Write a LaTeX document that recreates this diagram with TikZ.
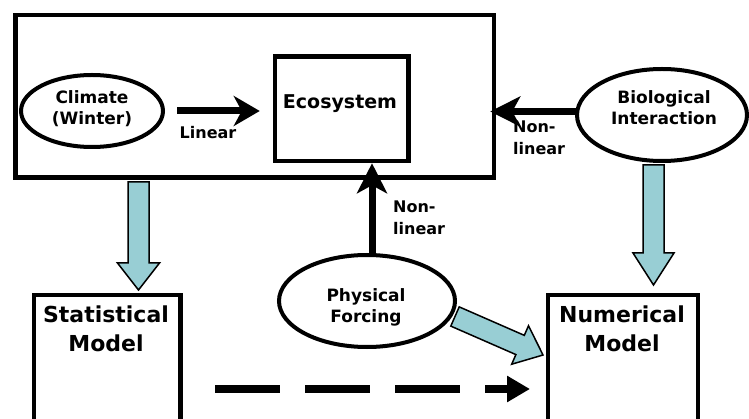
\documentclass[tikz,border=0pt]{standalone}
\usepackage{fontspec}
\setmainfont{DejaVu Sans}
\usetikzlibrary{arrows.meta,shapes.geometric,calc}
\definecolor{arrowblue}{RGB}{152,206,212}
\newcommand\fatarrow[4]{%
  \coordinate (fah) at ($(#2)!#3!(#1)$);
  \draw[bluearrow] ($(#1)!10.5pt!-90:(#2)$) -- ($(fah)!10.5pt!90:(#1)$)
    -- ($(fah)!#4!90:(#1)$) -- (#2) -- ($(fah)!#4!-90:(#1)$)
    -- ($(fah)!10.5pt!-90:(#1)$) -- ($(#1)!10.5pt!90:(#2)$) -- cycle;}
\tikzset{
  ell/.style={draw, ellipse, line width=4pt, inner sep=0pt},
  boxnode/.style={draw, rectangle, line width=4.5pt, inner sep=0pt},
  blackarrow/.style={line width=7pt, -{Stealth[length=#1, width=30pt, inset=8pt]}},
  blackarrow/.default=30pt,
  bluearrow/.style={fill=arrowblue, draw=black, line width=1.5pt, line join=miter},
  dasharrow/.style={line width=8pt, dash pattern=on 65pt off 25pt, -{Triangle[length=23pt,width=25pt]}},
  etext/.style={font=\bfseries\fontsize{17}{21}\selectfont, align=center, inner sep=0pt},
  lbl/.style={font=\bfseries\fontsize{16}{22}\selectfont, align=left, inner sep=0pt},
  bigtext/.style={font=\bfseries\fontsize{22}{29}\selectfont, align=center, inner sep=0pt}
}
\begin{document}
\begin{tikzpicture}[x=1pt, y=-1pt]
\useasboundingbox (0,0) rectangle (749,419);
% blue arrows
\coordinate (b1s) at (138.5,182); \coordinate (b1e) at (138.5,290);
\fatarrow{b1s}{b1e}{27pt}{21pt}
\coordinate (b2s) at (653.5,165); \coordinate (b2e) at (653.5,285);
\fatarrow{b2s}{b2e}{32pt}{20.5pt}
\coordinate (b3s) at (455,316.5); \coordinate (b3e) at (543,355);
\fatarrow{b3s}{b3e}{25pt}{21pt}
% boxes
\node[boxnode, minimum width=478.5pt, minimum height=162.5pt] (outer) at (254.75,96.25) {};
\node[boxnode, minimum width=133.5pt, minimum height=104.5pt] (eco) at (341.75,108.75) {};
\node[font=\bfseries\fontsize{19}{23}\selectfont, inner sep=0pt] (ecotxt) at (340,104) {Ecosystem};
\node[boxnode, minimum width=146.5pt, minimum height=160pt, anchor=north] (stat) at (107.25,293) {};
\node[bigtext] (stattxt) at (106,329) {Statistical\\Model};
\node[boxnode, minimum width=150pt, minimum height=160pt, anchor=north] (num) at (623,293) {};
\node[bigtext] (numtxt) at (622,329) {Numerical\\Model};
% ellipses
\node[ell, minimum width=142pt, minimum height=72pt] (clim) at (92,111) {};
\node[etext] (climtxt) at (92,109) {Climate\\(Winter)};
\node[ell, minimum width=170pt, minimum height=92pt] (bio) at (662,115) {};
\node[etext] (biotxt) at (664,108) {Biological\\Interaction};
\node[ell, minimum width=176pt, minimum height=92pt] (phys) at (367,301) {};
\node[etext] (phystxt) at (366,307) {Physical\\Forcing};
% black arrows
\draw[blackarrow=26pt, shorten <=12pt, shorten >=13pt] (clim.east) -- (clim.east -| eco.west);
\node[lbl] (lin) at (208,133) {Linear};
\coordinate (biob) at (577,111.5);
\draw[blackarrow, shorten >=-6pt] (biob) -- (biob -| outer.east);
\node[lbl, anchor=west] (nl1) at (513,138) {Non-\\linear};
\coordinate (vx) at (372,0);
\draw[blackarrow] (vx |- phys.north) -- (vx |- eco.south);
\node[lbl, anchor=west] (nl2) at (393,217.5) {Non-\\linear};
% dashed arrow
\coordinate (ds) at (215,389); \coordinate (de) at (530,389);
\draw[dasharrow] (ds) -- (de);
\end{tikzpicture}
\end{document}
